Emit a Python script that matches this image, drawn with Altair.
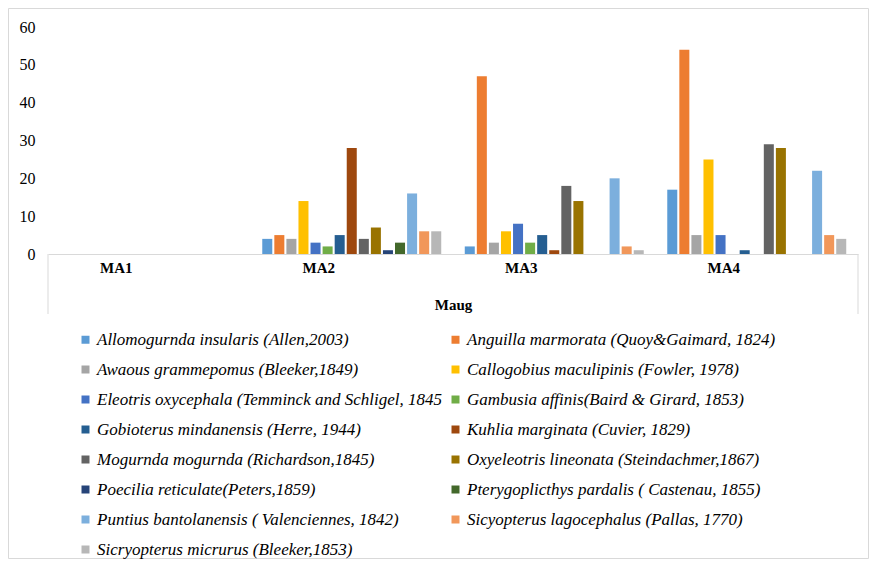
import altair as alt
import pandas as pd

sites = ["MA1", "MA2", "MA3", "MA4"]
species = [
    "Allomogurnda insularis (Allen,2003)",
    "Anguilla marmorata (Quoy&Gaimard, 1824)",
    "Awaous grammepomus (Bleeker,1849)",
    "Callogobius maculipinis (Fowler, 1978)",
    "Eleotris oxycephala  (Temminck and Schligel, 1845",
    "Gambusia affinis(Baird & Girard, 1853)",
    "Gobioterus mindanensis (Herre, 1944)",
    "Kuhlia marginata (Cuvier, 1829)",
    "Mogurnda mogurnda (Richardson,1845)",
    "Oxyeleotris lineonata (Steindachmer,1867)",
    "Poecilia reticulate(Peters,1859)",
    "Pterygoplicthys pardalis ( Castenau, 1855)",
    "Puntius bantolanensis ( Valenciennes, 1842)",
    "Sicyopterus lagocephalus (Pallas, 1770)",
    "Sicryopterus micrurus (Bleeker,1853)",
]
colors = [
    "#5B9BD5", "#ED7D31", "#A5A5A5", "#FFC000", "#4472C4",
    "#70AD47", "#255E91", "#9E480E", "#636363", "#997300",
    "#264478", "#43682B", "#7CAFDD", "#F1975A", "#B7B7B7",
]
ma1 = [0, 0, 0, 0, 0, 0, 0, 0, 0, 0, 0, 0, 0, 0, 0]
ma2 = [4, 5, 4, 14, 3, 2, 5, 28, 4, 7, 1, 3, 16, 6, 6]
ma3 = [2, 47, 3, 6, 8, 3, 5, 1, 18, 14, 0, 0, 20, 2, 1]
ma4 = [17, 54, 5, 25, 5, 0, 1, 0, 29, 28, 0, 0, 22, 5, 4]
y_ticks = [0, 10, 20, 30, 40, 50, 60]

SERIF = "Liberation Serif, 'Times New Roman', Times, serif"

rows = []
for site, vals in zip(sites, [ma1, ma2, ma3, ma4]):
    for sp, v in zip(species, vals):
        rows.append({"site": site, "species": sp, "value": v})
df = pd.DataFrame(rows)

bars = alt.Chart(df).mark_bar().encode(
    x=alt.X("site:N", sort=sites,
            scale=alt.Scale(paddingInner=0.106, paddingOuter=0.053),
            axis=alt.Axis(title="Maug", labelAngle=0, ticks=False,
                          domainColor="#d9d9d9", labelOffset=-33,
                          labelFontWeight="bold", labelPadding=6,
                          titlePadding=22, titleFontWeight="bold")),
    xOffset=alt.XOffset("species:N", sort=species,
                        scale=alt.Scale(paddingInner=0.17, paddingOuter=0.085)),
    y=alt.Y("value:Q", scale=alt.Scale(domain=[0, 60]),
            axis=alt.Axis(values=y_ticks, title=None, grid=False, domain=False,
                          ticks=False, labelPadding=13, labelFontSize=16)),
    color=alt.Color("species:N", sort=species,
                    scale=alt.Scale(domain=species, range=colors),
                    legend=alt.Legend(orient="none", legendX=29, legendY=304,
                                      direction="horizontal",
                                      columns=2, title=None, symbolType="square",
                                      symbolSize=64, symbolStrokeWidth=0,
                                      labelFont=SERIF,
                                      labelFontStyle="italic", labelFontSize=17,
                                      labelColor="#000000", rowPadding=12,
                                      columnPadding=0, labelOffset=3,
                                      labelLimit=0, padding=0)),
)

one = pd.DataFrame({"a": [0]})
frame = alt.Chart(one).mark_rect(fill=None, stroke="#d9d9d9", strokeWidth=1).encode(
    x=alt.value(-39.5), x2=alt.value(820.5), y=alt.value(-18.5), y2=alt.value(531.5)
)
left_rule = alt.Chart(one).mark_rule(color="#d9d9d9").encode(
    x=alt.value(0), y=alt.value(227), y2=alt.value(287)
)
right_rule = alt.Chart(one).mark_rule(color="#d9d9d9").encode(
    x=alt.value(810), y=alt.value(227), y2=alt.value(287)
)

chart = alt.layer(frame, left_rule, right_rule, bars).properties(
    width=810, height=227,
    autosize=alt.AutoSizeParams(type="none"),
    padding={"left": 40, "top": 19, "right": 11, "bottom": 305},
).configure_view(stroke=None).configure_axis(
    labelFont=SERIF, labelFontSize=15, labelColor="#000000",
    titleFont=SERIF, titleFontSize=15, titleColor="#000000",
)

chart.save("out.html", embed_options={"renderer": "svg", "actions": False})
